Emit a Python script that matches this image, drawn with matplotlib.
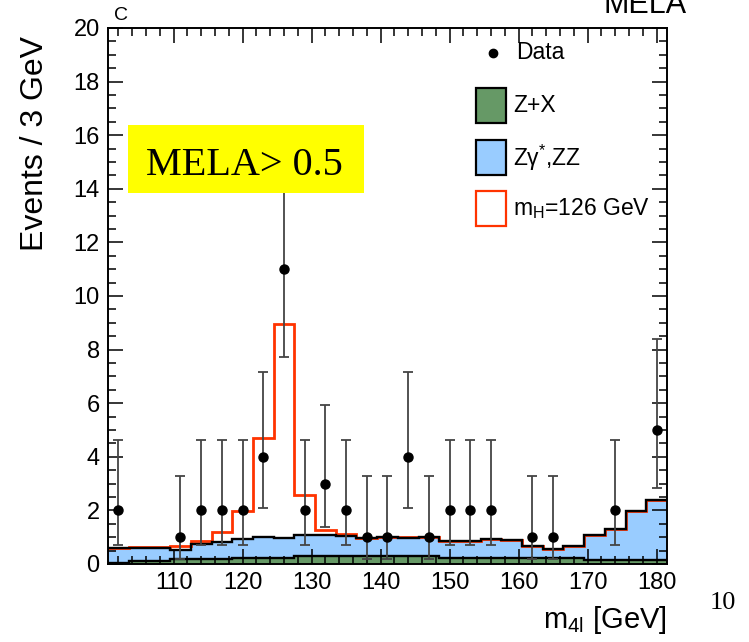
import matplotlib
matplotlib.use("Agg")
import matplotlib.pyplot as plt
import numpy as np
from matplotlib.patches import Rectangle
from matplotlib.lines import Line2D
from matplotlib.ticker import MultipleLocator

plt.rcParams["font.family"] = ["Liberation Sans", "DejaVu Sans"]
plt.rcParams["mathtext.fontset"] = "custom"
plt.rcParams["mathtext.rm"] = "Liberation Sans"
plt.rcParams["mathtext.it"] = "Liberation Sans:italic"
plt.rcParams["mathtext.default"] = "rm"

# 3 GeV bins, 100.5 - 181.5 GeV
bin_edges = np.arange(100.5, 181.6, 3.0)

# Z+X (bottom of the stack)
zx = [0.05, 0.12, 0.12, 0.19, 0.19, 0.19, 0.21, 0.24, 0.24,
      0.29, 0.29, 0.29, 0.29, 0.29, 0.29, 0.29, 0.22, 0.22,
      0.22, 0.22, 0.22, 0.22, 0.22, 0.16, 0.16, 0.16, 0.16]
# top of Zgamma*,ZZ + Z+X stack
bkg_total = [0.58, 0.58, 0.58, 0.53, 0.73, 0.83, 0.92, 1.02, 0.98,
             1.08, 1.07, 1.04, 0.96, 0.99, 0.96, 0.99, 0.87, 0.87,
             0.93, 0.90, 0.68, 0.57, 0.67, 1.08, 1.31, 1.97, 2.39]
# top of signal (mH=126) stacked on background
sig_total = [0.58, 0.62, 0.62, 0.67, 0.87, 1.18, 1.98, 4.71, 8.94,
             2.57, 1.27, 1.11, 0.96, 0.99, 1.02, 0.99, 0.87, 0.87,
             0.93, 0.90, 0.68, 0.57, 0.67, 1.08, 1.31, 1.97, 2.39]

data_mass = [102, 111, 114, 117, 120, 123, 126, 129, 132, 135, 138,
             141, 144, 147, 150, 153, 156, 162, 165, 174, 180]
data_counts = [2, 1, 2, 2, 2, 4, 11, 2, 3, 2, 1,
               1, 4, 1, 2, 2, 2, 1, 1, 2, 5]
# error bar ends
data_lo = [0.71, 0.17, 0.71, 0.71, 0.71, 2.09, 7.71, 0.71, 1.37, 0.71, 0.17,
           0.17, 2.09, 0.17, 0.71, 0.71, 0.71, 0.17, 0.17, 0.71, 2.84]
data_hi = [4.64, 3.30, 4.64, 4.64, 4.64, 7.16, 14.3, 4.64, 5.92, 4.64, 3.30,
           3.30, 7.16, 3.30, 4.64, 4.64, 4.64, 3.30, 3.30, 4.64, 8.38]

green = "#669966"
blue = "#99ccff"
red = "#ff3300"

fig = plt.figure(figsize=(7.49, 6.42), dpi=100)
ax = fig.add_axes([0.1442, 0.1215, 0.7463, 0.8349])

ax.stairs(bkg_total, bin_edges, fill=True, color=blue, zorder=1)
ax.stairs(zx, bin_edges, fill=True, color=green, zorder=1.1)
ax.stairs(sig_total, bin_edges, color=red, lw=2.0, baseline=None, zorder=2)
ax.stairs(bkg_total, bin_edges, color="black", lw=1.7, baseline=None, zorder=3)
ax.stairs(zx, bin_edges, color="black", lw=1.7, baseline=None, zorder=3)

y = np.array(data_counts, dtype=float)
yerr = [y - np.array(data_lo), np.array(data_hi) - y]
ax.errorbar(data_mass, y, yerr=yerr, fmt="o", color="black", ms=6.5,
            ecolor="#444444", elinewidth=1.3, capsize=3.5, capthick=1.3, zorder=5)

ax.set_xlim(100.5, 181.5)
ax.set_ylim(0, 20)
ax.xaxis.set_major_locator(MultipleLocator(10))
ax.xaxis.set_minor_locator(MultipleLocator(2))
ax.yaxis.set_major_locator(MultipleLocator(2))
ax.yaxis.set_minor_locator(MultipleLocator(0.5))
ax.tick_params(which="both", direction="in", top=True, right=True, width=1.1)
ax.tick_params(which="major", length=11, labelsize=17, pad=6)
ax.tick_params(which="minor", length=6)
for s in ax.spines.values():
    s.set_linewidth(1.4)

ax.set_ylabel("Events / 3 GeV", fontsize=23, loc="top")
ax.yaxis.set_label_coords(-0.104, 0.985)
ax.set_xlabel("m$_{4l}$ [GeV]", fontsize=21, loc="right")
ax.xaxis.set_label_coords(1.0, -0.075)

# yellow label box
ax.add_patch(Rectangle((0.0358, 0.692), 0.422, 0.127, transform=ax.transAxes,
                       facecolor="#ffff00", edgecolor="none", zorder=10))
ax.text(0.2433, 0.7257, "MELA> 0.5", transform=ax.transAxes, ha="center",
        va="baseline", fontsize=29, family="Liberation Serif", zorder=11)

# legend drawn by hand
ax.add_line(Line2D([0.6887], [0.9534], transform=ax.transAxes, marker="o",
                   color="black", ms=6))
ax.text(0.73, 0.9534, "Data", transform=ax.transAxes, va="center", fontsize=16.5)
boxes = [(0.8228, green, "black", "Z+X"),
         (0.7257, blue, "black", "Z\u03b3$^{*}$,ZZ"),
         (0.6306, "white", red, "m$_{H}$=126 GeV")]
for yb, fc, ec, lab in boxes:
    ax.add_patch(Rectangle((0.658, yb), 0.0537, 0.0653, transform=ax.transAxes,
                           facecolor=fc, edgecolor=ec, lw=1.6, zorder=6))
    ax.text(0.7245, yb + 0.0326, lab, transform=ax.transAxes, va="center",
            fontsize=16.5)

fig.text(0.161, 0.976, "C", fontsize=14, ha="center", va="center")
fig.text(0.861, 0.98, "MELA", fontsize=22, ha="center", va="baseline")
fig.text(0.983, 0.052, "10", fontsize=19, ha="right", va="baseline",
         family="Liberation Serif")

fig.savefig("out.png", dpi=100)
